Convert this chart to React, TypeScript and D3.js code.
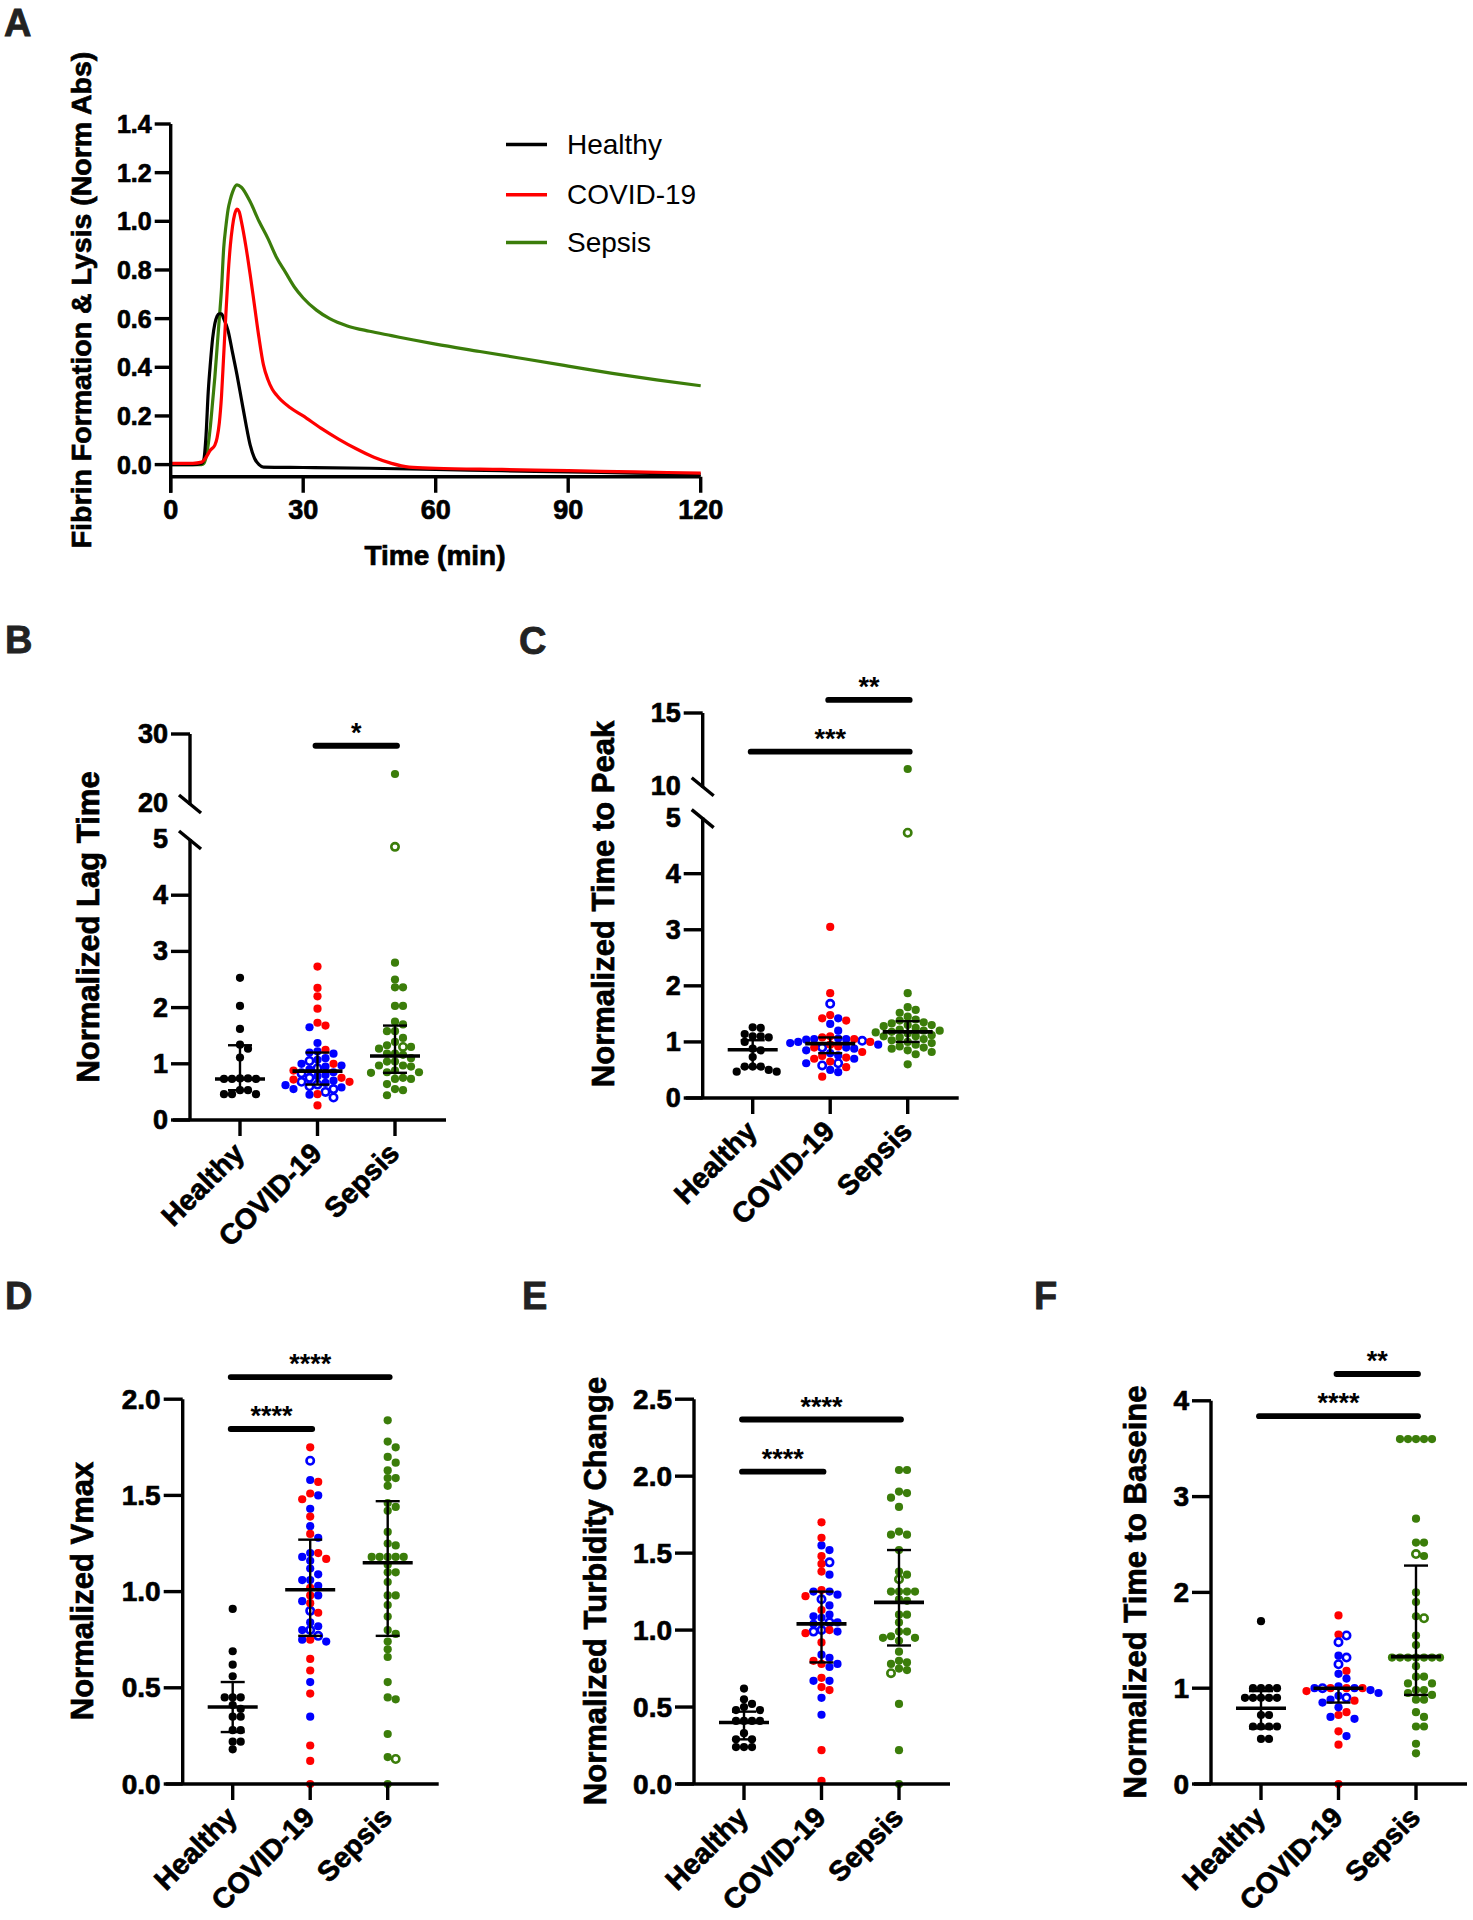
import React from "react";
import * as d3 from "d3";

const FONT = "'Liberation Sans', Arial, Helvetica, sans-serif";
const RED = "#ff0000";
const BLUE = "#0000ff";
const GREEN = "#3b7d0a";
const BLACK = "#000000";
const LETTER = "#222222";
const BOLD_STROKE = 0.7;

// ---------------- Panel A: kinetic curves ----------------
const healthyTime = [0, 5, 7, 7.5, 8, 8.5, 9, 9.5, 10, 10.5, 11, 11.5, 12, 13, 14, 15, 16, 17, 18, 19, 20, 21, 30, 45, 60, 75, 90, 105, 120];
const healthyAbs = [0, 0, 0.005, 0.02, 0.12, 0.3, 0.42, 0.52, 0.58, 0.61, 0.62, 0.62, 0.6, 0.55, 0.46, 0.37, 0.27, 0.17, 0.08, 0.025, 0.0, -0.01, -0.012, -0.015, -0.02, -0.025, -0.03, -0.035, -0.04];
const covidTime = [0, 5, 7, 8, 9, 10, 10.5, 11, 11.5, 12, 12.5, 13, 13.5, 14, 14.5, 15, 15.5, 16, 17, 18, 19, 20, 21, 22, 23, 24, 25, 27, 30, 34, 38, 42, 46, 50, 54, 60, 75, 90, 105, 120];
const covidAbs = [0.005, 0.005, 0.01, 0.03, 0.06, 0.08, 0.11, 0.17, 0.28, 0.45, 0.62, 0.78, 0.9, 0.98, 1.03, 1.05, 1.04, 1.0, 0.9, 0.78, 0.65, 0.52, 0.41, 0.35, 0.31, 0.285, 0.265, 0.235, 0.2, 0.15, 0.105, 0.065, 0.03, 0.005, -0.01, -0.015, -0.02, -0.025, -0.03, -0.035];
const sepsisTime = [0, 5, 7, 7.5, 8, 9, 9.5, 10, 10.5, 11, 11.5, 12, 12.5, 13, 13.5, 14, 15, 16, 18, 20, 22, 24, 26, 28, 30, 33, 36, 40, 45, 50, 55, 60, 70, 80, 90, 100, 110, 120];
const sepsisAbs = [0, 0, 0, 0.005, 0.03, 0.16, 0.26, 0.36, 0.48, 0.6, 0.72, 0.89, 0.98, 1.05, 1.09, 1.12, 1.15, 1.14, 1.08, 1.0, 0.93, 0.85, 0.79, 0.73, 0.685, 0.635, 0.6, 0.57, 0.548, 0.53, 0.512, 0.495, 0.465, 0.435, 0.405, 0.375, 0.348, 0.324];
const timeTicks = [0, 30, 60, 90, 120];
const absTicks = [0, 0.2, 0.4, 0.6, 0.8, 1.0, 1.2, 1.4];
const legendLabels = ["Healthy", "COVID-19", "Sepsis"];
const legendColors = [BLACK, RED, GREEN];

const categories = ["Healthy", "COVID-19", "Sepsis"];

// ---------------- Panel B: lag time ----------------
const lagHealthy = [2.53, 2.03, 1.62, 1.34, 1.27, 1.11, 0.74, 0.73, 0.73, 0.73, 0.74, 0.53, 0.46, 0.53, 0.46, 0.46];
const lagCovidRed = [2.73, 2.35, 2.2, 1.98, 1.73, 1.68, 1.25, 1.0, 0.88, 0.75, 0.72, 0.68, 0.46, 0.26];
const lagCovidBlue = [1.65, 1.37, 1.22, 1.2, 1.18, 1.1, 1.07, 1.0, 0.97, 0.95, 0.9, 0.85, 0.8, 0.78, 0.7, 0.66, 0.62, 0.58, 0.55, 0.45];
const lagCovidOpen = [1.05, 0.92, 0.83, 0.75, 0.68, 0.63, 0.6, 0.55, 0.5, 0.4];
const lagSepsis = [24.2, 2.8, 2.5, 2.36, 2.36, 2.03, 2.03, 1.75, 1.7, 1.58, 1.58, 1.46, 1.39, 1.33, 1.3, 1.27, 1.18, 1.18, 1.16, 1.1, 1.04, 1.04, 0.97, 0.97, 0.95, 0.88, 0.85, 0.85, 0.84, 0.75, 0.73, 0.73, 0.64, 0.55, 0.53, 0.44];
const lagSepsisOpen = [4.86, 1.3];
const lagMedian = [0.73, 0.87, 1.14];
const lagLow = [0.53, 0.63, 0.84];
const lagHigh = [1.33, 1.2, 1.68];
const lagSig = [{ from: "COVID-19", to: "Sepsis", y: 28.3, label: "*" }];

// ---------------- Panel C: time to peak ----------------
const peakHealthy = [1.26, 1.25, 1.14, 1.1, 1.1, 1.08, 1.0, 0.88, 0.85, 0.73, 0.56, 0.56, 0.56, 0.5, 0.47, 0.47];
const peakCovidRed = [3.05, 1.87, 1.48, 1.42, 1.38, 1.1, 1.08, 1.05, 1.0, 0.95, 0.92, 0.9, 0.82, 0.75, 0.72, 0.7, 0.65, 0.55, 0.38];
const peakCovidBlue = [1.42, 1.32, 1.2, 1.06, 1.05, 1.05, 1.04, 1.0, 0.98, 0.95, 0.9, 0.88, 0.85, 0.8, 0.76, 0.7, 0.62, 0.5, 0.46];
const peakCovidOpen = [1.68, 1.02, 0.9, 0.62, 0.58];
const peakSepsis = [11.15, 1.87, 1.62, 1.57, 1.52, 1.45, 1.4, 1.38, 1.35, 1.33, 1.3, 1.3, 1.28, 1.25, 1.22, 1.2, 1.2, 1.18, 1.17, 1.15, 1.12, 1.1, 1.1, 1.08, 1.05, 1.03, 1.0, 0.98, 0.95, 0.92, 0.9, 0.88, 0.85, 0.82, 0.78, 0.6];
const peakSepsisOpen = [4.73];
const peakMedian = [0.86, 0.97, 1.18];
const peakLow = [0.55, 0.8, 1.0];
const peakHigh = [1.03, 1.08, 1.37];
const peakSig = [
  { from: "COVID-19", to: "Sepsis", y: 15.9, label: "**" },
  { from: "Healthy", to: "Sepsis", y: 12.34, label: "***" },
];

// ---------------- Panel D: Vmax ----------------
const vmaxHealthy = [0.91, 0.69, 0.62, 0.56, 0.45, 0.45, 0.45, 0.41, 0.39, 0.35, 0.35, 0.28, 0.28, 0.22, 0.22, 0.18];
const vmaxCovidRed = [1.75, 1.57, 1.51, 1.48, 1.39, 1.3, 1.2, 1.17, 1.02, 0.98, 0.94, 0.89, 0.75, 0.65, 0.59, 0.47, 0.2, 0.12, 0.0];
const vmaxCovidBlue = [1.58, 1.5, 1.43, 1.34, 1.28, 1.2, 1.18, 1.16, 1.12, 1.09, 1.06, 1.06, 1.03, 0.98, 0.95, 0.84, 0.82, 0.8, 0.75, 0.74, 0.53, 0.35];
const vmaxCovidOpen = [1.68, 0.9, 0.8, 0.77];
const vmaxSepsis = [1.89, 1.78, 1.75, 1.7, 1.67, 1.63, 1.59, 1.59, 1.55, 1.46, 1.44, 1.42, 1.31, 1.25, 1.24, 1.18, 1.18, 1.18, 1.18, 1.18, 1.14, 1.1, 1.1, 1.05, 0.98, 0.98, 0.93, 0.87, 0.8, 0.78, 0.74, 0.7, 0.66, 0.53, 0.45, 0.44, 0.26, 0.14, 0.0];
const vmaxSepsisOpen = [0.13];
const vmaxMedian = [0.4, 1.01, 1.15];
const vmaxLow = [0.27, 0.77, 0.77];
const vmaxHigh = [0.53, 1.27, 1.47];
const vmaxSig = [
  { from: "Healthy", to: "Sepsis", y: 2.115, label: "****" },
  { from: "Healthy", to: "COVID-19", y: 1.845, label: "****" },
];

// ---------------- Panel E: turbidity change ----------------
const turbHealthy = [0.62, 0.55, 0.52, 0.5, 0.48, 0.48, 0.41, 0.41, 0.41, 0.41, 0.33, 0.29, 0.29, 0.24, 0.24, 0.24];
const turbCovidRed = [1.7, 1.6, 1.48, 1.43, 1.38, 1.26, 1.22, 1.13, 1.0, 0.98, 0.92, 0.8, 0.78, 0.69, 0.63, 0.61, 0.22, 0.02];
const turbCovidBlue = [1.55, 1.52, 1.36, 1.25, 1.25, 1.23, 1.16, 1.1, 1.09, 1.08, 1.05, 1.04, 0.99, 0.84, 0.82, 0.78, 0.76, 0.67, 0.67, 0.56, 0.45];
const turbCovidOpen = [1.44, 1.2, 1.05, 1.0, 0.99];
const turbSepsis = [2.04, 2.04, 1.9, 1.89, 1.86, 1.8, 1.64, 1.62, 1.62, 1.52, 1.38, 1.36, 1.25, 1.25, 1.25, 1.25, 1.2, 1.19, 1.1, 1.1, 1.05, 0.99, 0.99, 0.96, 0.95, 0.95, 0.93, 0.86, 0.8, 0.79, 0.78, 0.75, 0.74, 0.52, 0.22, 0.0];
const turbSepsisOpen = [1.33, 0.72];
const turbMedian = [0.4, 1.04, 1.18];
const turbLow = [0.29, 0.79, 0.9];
const turbHigh = [0.47, 1.25, 1.52];
const turbSig = [
  { from: "Healthy", to: "Sepsis", y: 2.368, label: "****" },
  { from: "Healthy", to: "COVID-19", y: 2.029, label: "****" },
];

// ---------------- Panel F: time to baseline ----------------
const baseHealthy = [1.7, 1.0, 1.0, 1.0, 1.0, 0.9, 0.9, 0.9, 0.9, 0.9, 0.72, 0.72, 0.6, 0.6, 0.6, 0.6, 0.47, 0.47];
const baseCovidRed = [1.76, 1.56, 1.18, 1.0, 1.0, 1.0, 0.97, 0.87, 0.75, 0.72, 0.55, 0.41, 0.0];
const baseCovidBlue = [1.34, 1.15, 1.1, 1.02, 1.0, 1.0, 0.98, 0.95, 0.92, 0.88, 0.85, 0.8, 0.7, 0.68, 0.5];
const baseCovidOpen = [1.55, 1.48, 1.32, 1.25, 1.0, 0.9];
const baseSepsis = [3.6, 3.6, 3.6, 3.6, 3.6, 2.77, 2.52, 2.52, 2.38, 2.0, 1.9, 1.75, 1.55, 1.45, 1.32, 1.32, 1.32, 1.32, 1.32, 1.32, 1.32, 1.23, 1.12, 1.12, 1.05, 1.05, 0.98, 0.98, 0.95, 0.93, 0.88, 0.88, 0.75, 0.7, 0.6, 0.6, 0.42, 0.32];
const baseSepsisOpen = [2.4, 1.73];
const baseMedian = [0.79, 1.0, 1.33];
const baseLow = [0.58, 0.85, 0.93];
const baseHigh = [0.97, 1.0, 2.28];
const baseSig = [
  { from: "COVID-19", to: "Sepsis", y: 4.28, label: "**" },
  { from: "Healthy", to: "Sepsis", y: 3.84, label: "****" },
];

// ---------------- helpers ----------------
type Pt = { v: number; color: string; open: boolean };
type Placed = Pt & { py: number; dx: number };

function pts(vals: number[], color: string, open = false): Pt[] {
  return vals.map((v) => ({ v, color, open }));
}

function interleave(...lists: Pt[][]): Pt[] {
  const out: Pt[] = [];
  const n = Math.max(...lists.map((l) => l.length));
  for (let i = 0; i < n; i++) for (const l of lists) if (i < l.length) out.push(l[i]);
  return out;
}

function swarm(points: Pt[], y: (v: number) => number, step: number, minDist: number): Placed[] {
  const items: Placed[] = points.map((p) => ({ ...p, py: y(p.v), dx: 0 }));
  const order = items.map((d, i) => i).sort((a, b) => items[a].py - items[b].py || a - b);
  const placed: Placed[] = [];
  for (const idx of order) {
    const it = items[idx];
    let done = false;
    for (let k = 0; k < 60 && !done; k++) {
      const cands = k === 0 ? [0] : [k * step, -k * step];
      for (const c of cands) {
        if (placed.every((q) => (q.dx - c) ** 2 + (q.py - it.py) ** 2 >= minDist * minDist)) {
          it.dx = c;
          done = true;
          break;
        }
      }
    }
    placed.push(it);
  }
  return items;
}

type Sig = { from: string; to: string; y: number; label: string };

type PanelProps = {
  letter: string;
  letterX: number;
  letterY: number;
  axisX: number;
  baseY: number;
  lower: d3.ScaleLinear<number, number>;
  upper?: d3.ScaleLinear<number, number>;
  lowerLabels: number[];
  lowerMarks: number[];
  upperLabels?: number[];
  upperMarks?: number[];
  fmt: (n: number) => string;
  groups: Pt[][];
  med: number[];
  low: number[];
  high: number[];
  sig: Sig[];
  title: string;
  titleX: number;
  titleY: number;
  tickFont: number;
};

function DotPanel(p: PanelProps) {
  const lowerMax = p.lower.domain()[1];
  const y = (v: number) => (p.upper && v > lowerMax ? p.upper(v) : p.lower(v));
  const x = d3.scalePoint<string>().domain(categories).range([p.axisX + 50, p.axisX + 205]);
  const tickLen = 19;
  const axW = 3.4;
  const lowerTop = p.lower(lowerMax);
  return (
    <g>
      <text x={p.letterX} y={p.letterY} fontFamily={FONT} fontWeight="bold" fontSize={38} fill={LETTER} stroke={LETTER} strokeWidth={0.8}>
        {p.letter}
      </text>
      <text
        transform={`translate(${p.titleX},${p.titleY}) rotate(-90)`}
        textAnchor="middle"
        dominantBaseline="central"
        fontFamily={FONT}
        fontWeight="bold"
        fontSize={31}
        fill={BLACK}
        stroke={BLACK}
        strokeWidth={BOLD_STROKE}
      >
        {p.title}
      </text>
      {/* dots */}
      {p.groups.map((g, gi) => {
        const placed = swarm(g, y, 8, 7.6);
        const cx = x(categories[gi]) as number;
        return (
          <g key={gi}>
            {placed.map((d, i) =>
              d.open ? (
                <circle key={i} cx={cx + d.dx} cy={d.py} r={3.7} fill="#ffffff" stroke={d.color} strokeWidth={2.6} />
              ) : (
                <circle key={i} cx={cx + d.dx} cy={d.py} r={4.1} fill={d.color} />
              )
            )}
          </g>
        );
      })}
      {/* error bars */}
      {categories.map((c, i) => {
        const cx = x(c) as number;
        return (
          <g key={c} stroke={BLACK}>
            <line x1={cx} x2={cx} y1={y(p.low[i])} y2={y(p.high[i])} strokeWidth={2.4} />
            <line x1={cx - 12} x2={cx + 12} y1={y(p.low[i])} y2={y(p.low[i])} strokeWidth={2.4} />
            <line x1={cx - 12} x2={cx + 12} y1={y(p.high[i])} y2={y(p.high[i])} strokeWidth={2.4} />
            <line x1={cx - 25} x2={cx + 25} y1={y(p.med[i])} y2={y(p.med[i])} strokeWidth={3.6} />
          </g>
        );
      })}
      {/* axes */}
      <g stroke={BLACK} strokeWidth={axW} fill="none">
        <line x1={p.axisX - 17} x2={p.axisX + 256} y1={p.baseY} y2={p.baseY} />
        <line x1={p.axisX} x2={p.axisX} y1={p.baseY} y2={lowerTop} />
        {p.lowerMarks.map((t) => (
          <line key={"lm" + t} x1={p.axisX - tickLen} x2={p.axisX} y1={p.lower(t)} y2={p.lower(t)} />
        ))}
        {categories.map((c) => (
          <line key={"xt" + c} x1={x(c)} x2={x(c)} y1={p.baseY} y2={p.baseY + 16} />
        ))}
        {p.upper && (
          <>
            <line x1={p.axisX} x2={p.axisX} y1={p.upper(p.upper.domain()[0]) + 2} y2={p.upper(p.upper.domain()[1])} />
            {(p.upperMarks || []).map((t) => (
              <line key={"um" + t} x1={p.axisX - tickLen} x2={p.axisX} y1={p.upper!(t)} y2={p.upper!(t)} />
            ))}
            <line x1={p.axisX - 11} x2={p.axisX + 11} y1={p.upper(p.upper.domain()[0]) - 8} y2={p.upper(p.upper.domain()[0]) + 10} />
            <line x1={p.axisX - 11} x2={p.axisX + 11} y1={lowerTop - 8} y2={lowerTop + 10} />
          </>
        )}
      </g>
      <g
        fontFamily={FONT}
        fontWeight="bold"
        fontSize={p.tickFont}
        fill={BLACK}
        stroke={BLACK}
        strokeWidth={BOLD_STROKE}
        textAnchor="end"
        dominantBaseline="central"
      >
        {p.lowerLabels.map((t) => (
          <text key={"ll" + t} x={p.axisX - tickLen - 3} y={p.lower(t)}>
            {p.fmt(t)}
          </text>
        ))}
        {p.upper &&
          (p.upperLabels || []).map((t) => (
            <text key={"ul" + t} x={p.axisX - tickLen - 3} y={p.upper!(t)}>
              {p.fmt(t)}
            </text>
          ))}
      </g>
      {/* category labels */}
      <g fontFamily={FONT} fontWeight="bold" fontSize={28.5} fill={BLACK} stroke={BLACK} strokeWidth={BOLD_STROKE} textAnchor="end">
        {categories.map((c) => (
          <text key={"cl" + c} transform={`translate(${(x(c) as number) + 6},${p.baseY + 35}) rotate(-45)`}>
            {c}
          </text>
        ))}
      </g>
      {/* significance */}
      {p.sig.map((s, i) => {
        const x1 = (x(s.from) as number) - 2;
        const x2 = (x(s.to) as number) + 2;
        const yy = y(s.y);
        return (
          <g key={"sig" + i}>
            <line x1={x1} x2={x2} y1={yy} y2={yy} stroke={BLACK} strokeWidth={5.8} strokeLinecap="round" />
            <text x={(x1 + x2) / 2} y={yy - 4} textAnchor="middle" fontFamily={FONT} fontWeight="bold" fontSize={27} fill={BLACK}>
              {s.label}
            </text>
          </g>
        );
      })}
    </g>
  );
}

function PanelA() {
  const x = d3.scaleLinear().domain([0, 120]).range([170.7, 700.7]);
  const y = d3.scaleLinear().domain([0, 1.4]).range([464.6, 124]);
  const axisY = y(-0.05);
  const line = d3
    .line<[number, number]>()
    .x((d) => x(d[0]))
    .y((d) => y(d[1]))
    .curve(d3.curveMonotoneX);
  const hData = d3.zip(healthyTime, healthyAbs) as [number, number][];
  const cData = d3.zip(covidTime, covidAbs) as [number, number][];
  const sData = d3.zip(sepsisTime, sepsisAbs) as [number, number][];
  const fmt = d3.format(".1f");
  const legendY = [144.5, 194.7, 242.5];
  return (
    <g>
      <text x={4} y={36} fontFamily={FONT} fontWeight="bold" fontSize={38} fill={LETTER} stroke={LETTER} strokeWidth={0.8}>
        A
      </text>
      <path d={line(sData) || ""} fill="none" stroke={GREEN} strokeWidth={3.2} />
      <path d={line(hData) || ""} fill="none" stroke={BLACK} strokeWidth={3.2} />
      <path d={line(cData) || ""} fill="none" stroke={RED} strokeWidth={3.2} />
      <g stroke={BLACK} strokeWidth={3.4}>
        <line x1={x(0)} x2={x(0)} y1={y(1.4)} y2={axisY + 16} />
        <line x1={x(0)} x2={x(120)} y1={axisY} y2={axisY} />
        {absTicks.map((t) => (
          <line key={"yt" + t} x1={x(0) - 16} x2={x(0)} y1={y(t)} y2={y(t)} />
        ))}
        {timeTicks.map((t) => (
          <line key={"xt" + t} x1={x(t)} x2={x(t)} y1={axisY} y2={axisY + 16} />
        ))}
      </g>
      <g fontFamily={FONT} fontWeight="bold" fontSize={25} fill={BLACK} stroke={BLACK} strokeWidth={BOLD_STROKE}>
        {absTicks.map((t) => (
          <text key={"yl" + t} x={x(0) - 19} y={y(t)} textAnchor="end" dominantBaseline="central">
            {fmt(t)}
          </text>
        ))}
        {timeTicks.map((t) => (
          <text key={"xl" + t} x={x(t)} y={510} textAnchor="middle" dominantBaseline="central" fontSize={27}>
            {t}
          </text>
        ))}
      </g>
      <text
        x={435}
        y={555}
        textAnchor="middle"
        dominantBaseline="central"
        fontFamily={FONT}
        fontWeight="bold"
        fontSize={28}
        stroke={BLACK}
        strokeWidth={BOLD_STROKE}
      >
        Time (min)
      </text>
      <text
        transform="translate(81,300) rotate(-90)"
        textAnchor="middle"
        dominantBaseline="central"
        fontFamily={FONT}
        fontWeight="bold"
        fontSize={28.5}
        stroke={BLACK}
        strokeWidth={BOLD_STROKE}
      >
        Fibrin Formation &amp; Lysis (Norm Abs)
      </text>
      {legendLabels.map((l, i) => (
        <g key={l}>
          <line x1={506} x2={547} y1={legendY[i]} y2={legendY[i]} stroke={legendColors[i]} strokeWidth={3.6} />
          <text x={567} y={legendY[i]} dominantBaseline="central" fontFamily={FONT} fontSize={28} fill={BLACK}>
            {l}
          </text>
        </g>
      ))}
    </g>
  );
}

export default function App() {
  const fmtInt = d3.format("d");
  const fmt1 = d3.format(".1f");
  return (
    <svg width={1473} height={1920} style={{ position: "absolute", left: 0, top: 0, background: "#fff" }}>
      <rect x={0} y={0} width={1473} height={1920} fill="#ffffff" />
      <PanelA />
      <DotPanel
        letter="B"
        letterX={5}
        letterY={653}
        axisX={190}
        baseY={1120}
        lower={d3.scaleLinear().domain([0, 5]).range([1120, 839])}
        upper={d3.scaleLinear().domain([20, 30]).range([803, 734])}
        lowerLabels={[0, 1, 2, 3, 4, 5]}
        lowerMarks={[0, 1, 2, 3, 4]}
        upperLabels={[20, 30]}
        upperMarks={[30]}
        fmt={fmtInt}
        groups={[
          pts(lagHealthy, BLACK),
          interleave(pts(lagCovidRed, RED), pts(lagCovidBlue, BLUE), pts(lagCovidOpen, BLUE, true)),
          interleave(pts(lagSepsis, GREEN), pts(lagSepsisOpen, GREEN, true)),
        ]}
        med={lagMedian}
        low={lagLow}
        high={lagHigh}
        sig={lagSig}
        title="Normalized Lag Time"
        titleX={88}
        titleY={927}
        tickFont={27}
      />
      <DotPanel
        letter="C"
        letterX={519}
        letterY={654}
        axisX={702.7}
        baseY={1098}
        lower={d3.scaleLinear().domain([0, 5]).range([1098, 817.6])}
        upper={d3.scaleLinear().domain([10, 15]).range([785.7, 713])}
        lowerLabels={[0, 1, 2, 3, 4, 5]}
        lowerMarks={[0, 1, 2, 3, 4]}
        upperLabels={[10, 15]}
        upperMarks={[15]}
        fmt={fmtInt}
        groups={[
          pts(peakHealthy, BLACK),
          interleave(pts(peakCovidRed, RED), pts(peakCovidBlue, BLUE), pts(peakCovidOpen, BLUE, true)),
          interleave(pts(peakSepsis, GREEN), pts(peakSepsisOpen, GREEN, true)),
        ]}
        med={peakMedian}
        low={peakLow}
        high={peakHigh}
        sig={peakSig}
        title="Normalized Time to Peak"
        titleX={603}
        titleY={904}
        tickFont={27}
      />
      <DotPanel
        letter="D"
        letterX={5}
        letterY={1309}
        axisX={182.7}
        baseY={1784}
        lower={d3.scaleLinear().domain([0, 2]).range([1784, 1399.2])}
        lowerLabels={[0, 0.5, 1, 1.5, 2]}
        lowerMarks={[0, 0.5, 1, 1.5, 2]}
        fmt={fmt1}
        groups={[
          pts(vmaxHealthy, BLACK),
          interleave(pts(vmaxCovidRed, RED), pts(vmaxCovidBlue, BLUE), pts(vmaxCovidOpen, BLUE, true)),
          interleave(pts(vmaxSepsis, GREEN), pts(vmaxSepsisOpen, GREEN, true)),
        ]}
        med={vmaxMedian}
        low={vmaxLow}
        high={vmaxHigh}
        sig={vmaxSig}
        title="Normalized Vmax"
        titleX={82.5}
        titleY={1591}
        tickFont={28}
      />
      <DotPanel
        letter="E"
        letterX={522}
        letterY={1309}
        axisX={694}
        baseY={1784}
        lower={d3.scaleLinear().domain([0, 2.5]).range([1784, 1399.2])}
        lowerLabels={[0, 0.5, 1, 1.5, 2, 2.5]}
        lowerMarks={[0, 0.5, 1, 1.5, 2, 2.5]}
        fmt={fmt1}
        groups={[
          pts(turbHealthy, BLACK),
          interleave(pts(turbCovidRed, RED), pts(turbCovidBlue, BLUE), pts(turbCovidOpen, BLUE, true)),
          interleave(pts(turbSepsis, GREEN), pts(turbSepsisOpen, GREEN, true)),
        ]}
        med={turbMedian}
        low={turbLow}
        high={turbHigh}
        sig={turbSig}
        title="Normalized Turbidity Change"
        titleX={595}
        titleY={1591}
        tickFont={28}
      />
      <DotPanel
        letter="F"
        letterX={1034}
        letterY={1309}
        axisX={1211}
        baseY={1784}
        lower={d3.scaleLinear().domain([0, 4]).range([1784, 1400.8])}
        lowerLabels={[0, 1, 2, 3, 4]}
        lowerMarks={[0, 1, 2, 3, 4]}
        fmt={fmtInt}
        groups={[
          pts(baseHealthy, BLACK),
          interleave(pts(baseCovidRed, RED), pts(baseCovidBlue, BLUE), pts(baseCovidOpen, BLUE, true)),
          interleave(pts(baseSepsis, GREEN), pts(baseSepsisOpen, GREEN, true)),
        ]}
        med={baseMedian}
        low={baseLow}
        high={baseHigh}
        sig={baseSig}
        title="Normalized Time to Baseine"
        titleX={1135}
        titleY={1592}
        tickFont={28}
      />
    </svg>
  );
}
